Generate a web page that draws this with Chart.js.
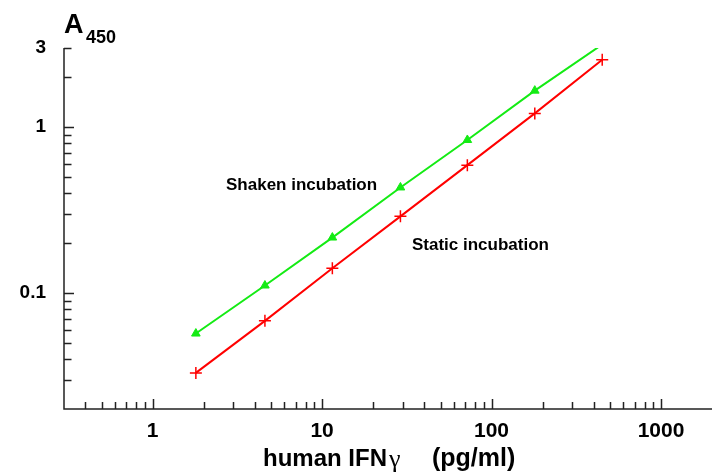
<!DOCTYPE html>
<html>
<head>
<meta charset="utf-8">
<script src="https://cdn.jsdelivr.net/npm/chart.js@4/dist/chart.umd.min.js"></script>
<style>
  html, body { margin: 0; padding: 0; background: #fff; }
  #wrap { width: 713px; height: 473px; }
</style>
</head>
<body>
<div id="wrap"><canvas id="elisa" width="713" height="473"></canvas></div>
<script>
// concentrations of human IFN-gamma (pg/ml)
const conc = [1.8, 4.6, 11.5, 29, 72, 180, 450];
// A450 readings
const shaken = [0.057, 0.111, 0.216, 0.433, 0.837, 1.66, 3.15];
const staticInc = [0.033, 0.068, 0.141, 0.29, 0.59, 1.21, 2.55];

// axis ticks
const xLabels = [1, 10, 100, 1000];
const xMinor = [0.4, 0.5, 0.6, 0.7, 0.8, 0.9, 2, 3, 4, 5, 6, 7, 8, 9,
    20, 30, 40, 50, 60, 70, 80, 90, 200, 300, 400, 500, 600, 700, 800, 900];
const yLabels = [0.1, 1, 3];
const yMajor = [0.1, 1];
const yMinor = [0.03, 0.04, 0.05, 0.06, 0.07, 0.08, 0.09,
    0.2, 0.3, 0.4, 0.5, 0.6, 0.7, 0.8, 0.9, 2, 3];

const FONT = '"Liberation Sans", Arial, sans-serif';
const GREEN = 'rgb(20, 235, 20)';
const RED = 'rgb(255, 0, 0)';

const toPoints = (ys) => conc.map((c, i) => ({ x: c, y: ys[i] }));

// axes with inward ticks, titles and curve labels
const decorations = {
    id: 'decorations',
    afterDraw(chart) {
        const ctx = chart.ctx;
        const a = chart.chartArea;
        const xs = chart.scales.x;
        const ys = chart.scales.y;
        ctx.save();
        ctx.strokeStyle = '#222';
        ctx.lineWidth = 1.5;
        ctx.beginPath();
        ctx.moveTo(a.left, a.top);
        ctx.lineTo(a.left, a.bottom);
        ctx.lineTo(a.right, a.bottom);
        ctx.stroke();

        ctx.beginPath();
        xLabels.forEach(v => {
            const px = Math.round(xs.getPixelForValue(v)) + 0.5;
            ctx.moveTo(px, a.bottom); ctx.lineTo(px, a.bottom - 10);
        });
        xMinor.forEach(v => {
            const px = Math.round(xs.getPixelForValue(v)) + 0.5;
            ctx.moveTo(px, a.bottom); ctx.lineTo(px, a.bottom - 7);
        });
        yMajor.forEach(v => {
            const py = Math.round(ys.getPixelForValue(v)) + 0.5;
            ctx.moveTo(a.left, py); ctx.lineTo(a.left + 10, py);
        });
        yMinor.forEach(v => {
            const py = Math.round(ys.getPixelForValue(v)) + 0.5;
            ctx.moveTo(a.left, py); ctx.lineTo(a.left + 7.5, py);
        });
        ctx.stroke();

        ctx.fillStyle = '#000';
        ctx.textBaseline = 'alphabetic';
        ctx.textAlign = 'left';

        // y title: A450
        ctx.font = 'bold 27px ' + FONT;
        ctx.fillText('A', 64, 33);
        ctx.font = 'bold 18px ' + FONT;
        ctx.fillText('450', 86, 43);

        // x title
        ctx.font = 'bold 24px ' + FONT;
        ctx.fillText('human IFN', 263, 466);
        ctx.font = '26px "Liberation Serif", serif';
        ctx.fillText('\u03b3', 389, 467);
        ctx.font = 'bold 25px ' + FONT;
        ctx.fillText('(pg/ml)', 432, 466);

        // curve labels
        ctx.font = 'bold 17px ' + FONT;
        ctx.fillText('Shaken incubation', 226, 190);
        ctx.fillText('Static incubation', 412, 250);
        ctx.restore();
    }
};

new Chart(document.getElementById('elisa').getContext('2d'), {
    type: 'line',
    data: {
        datasets: [{
            label: 'Shaken incubation',
            data: toPoints(shaken),
            borderColor: GREEN,
            backgroundColor: GREEN,
            borderWidth: 2,
            pointStyle: 'triangle',
            pointRadius: [5, 5, 5, 5, 5, 5, 0],
            pointBorderWidth: 1,
            tension: 0
        }, {
            label: 'Static incubation',
            data: toPoints(staticInc),
            borderColor: RED,
            backgroundColor: RED,
            borderWidth: 2,
            pointStyle: 'cross',
            pointRadius: 6,
            pointBorderWidth: 1.5,
            tension: 0
        }]
    },
    plugins: [decorations],
    options: {
        responsive: false,
        animation: false,
        layout: { autoPadding: false, padding: { top: 48, right: 1, left: 0, bottom: 0 } },
        plugins: {
            legend: { display: false },
            tooltip: { enabled: false }
        },
        scales: {
            x: {
                type: 'logarithmic',
                min: 0.3,
                max: 2000,
                grid: { display: false, drawTicks: false },
                border: { display: false },
                afterBuildTicks: (s) => { s.ticks = xLabels.map(v => ({ value: v })); },
                afterFit: (s) => { s.height = 64; s.paddingLeft = 0; s.paddingRight = 0; },
                ticks: {
                    autoSkip: false,
                    maxRotation: 0,
                    padding: 10,
                    color: '#000',
                    font: { family: FONT, weight: 'bold', size: 21 },
                    callback: (v) => String(v)
                }
            },
            y: {
                type: 'logarithmic',
                min: 0.02,
                max: 3,
                grid: { display: false, drawTicks: false },
                border: { display: false },
                afterBuildTicks: (s) => { s.ticks = yLabels.map(v => ({ value: v })); },
                afterFit: (s) => { s.width = 64; s.paddingTop = 0; s.paddingBottom = 0; },
                ticks: {
                    autoSkip: false,
                    padding: 18,
                    color: '#000',
                    font: { family: FONT, weight: 'bold', size: 19 },
                    callback: (v) => String(v)
                }
            }
        }
    }
});
</script>
</body>
</html>
